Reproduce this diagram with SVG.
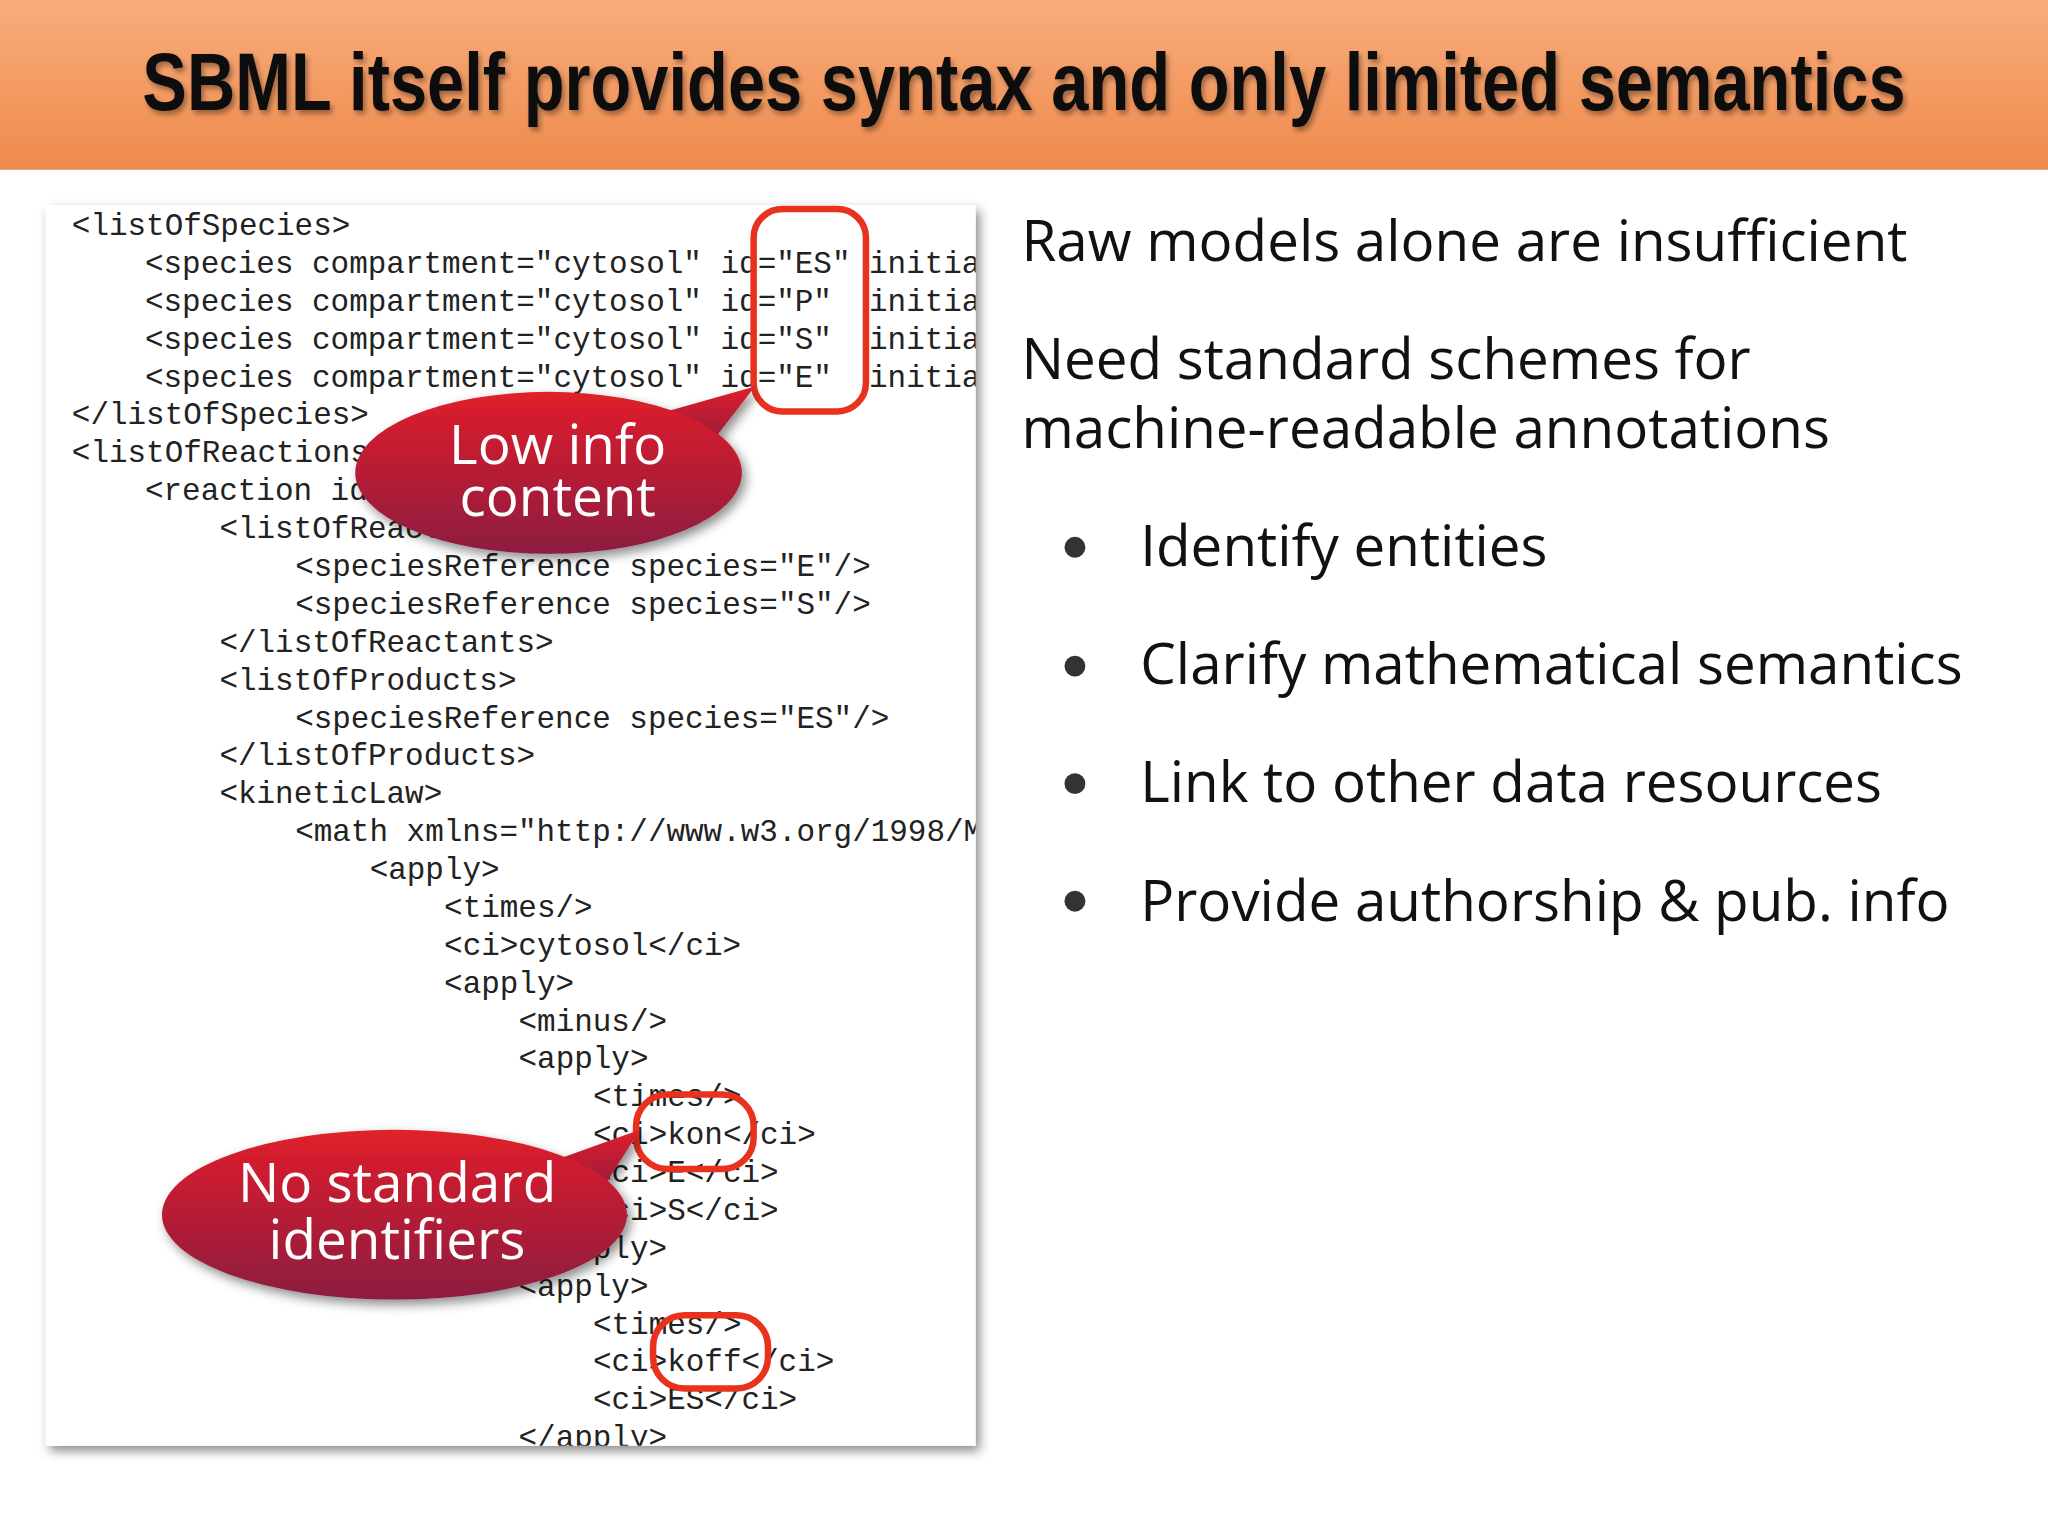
<svg xmlns="http://www.w3.org/2000/svg" width="2048" height="1536" viewBox="0 0 2048 1536">
<defs>
<linearGradient id="hdr" x1="0" y1="0" x2="0" y2="1"><stop offset="0" stop-color="#f8ad7c"/><stop offset="1" stop-color="#ef8a4c"/></linearGradient>
<linearGradient id="bub" x1="0" y1="0" x2="0" y2="1"><stop offset="0" stop-color="#e0202a"/><stop offset="1" stop-color="#8c1a40"/></linearGradient>
<clipPath id="pc"><rect x="35" y="157" width="712" height="950"/></clipPath>
<filter id="sh" x="-10%" y="-10%" width="130%" height="130%"><feDropShadow dx="3" dy="4" stdDeviation="4" flood-opacity="0.45"/></filter>
<filter id="tsh"><feDropShadow dx="2" dy="3" stdDeviation="2" flood-opacity="0.35"/></filter>
<style>
.c{font-family:"Liberation Mono",monospace;font-size:23.7px;fill:#222;white-space:pre}
.r{font-family:"Open Sans","Noto Sans",sans-serif;font-size:43.3px;fill:#111}
.b{font-family:"Open Sans","Noto Sans",sans-serif;font-size:42px;fill:#fff;text-anchor:middle}
.box{fill:none;stroke:#e8321e;stroke-width:5}
</style>
</defs>
<g transform="scale(1.30612)">
<rect x="0" y="0" width="1568" height="130" fill="url(#hdr)"/>
<text x="784" y="84" text-anchor="middle" font-family="'Liberation Sans',sans-serif" font-weight="bold" font-size="62" textLength="1350" lengthAdjust="spacingAndGlyphs" fill="#111" filter="url(#tsh)">SBML itself provides syntax and only limited semantics</text>
<g id="panel">
<rect x="35" y="157" width="712" height="950" fill="#fff" filter="url(#sh)"/>
<g clip-path="url(#pc)" xml:space="preserve">
<text class="c" x="55" y="180">&lt;listOfSpecies&gt;</text>
<text class="c" x="111" y="209">&lt;species compartment="cytosol" id="ES" initialAmount</text>
<text class="c" x="111" y="238">&lt;species compartment="cytosol" id="P"  initialAmount</text>
<text class="c" x="111" y="267">&lt;species compartment="cytosol" id="S"  initialAmount</text>
<text class="c" x="111" y="296">&lt;species compartment="cytosol" id="E"  initialAmount</text>
<text class="c" x="55" y="325">&lt;/listOfSpecies&gt;</text>
<text class="c" x="55" y="354">&lt;listOfReactions&gt;</text>
<text class="c" x="111" y="383">&lt;reaction id="veq"&gt;</text>
<text class="c" x="168" y="412">&lt;listOfReactants&gt;</text>
<text class="c" x="226" y="441">&lt;speciesReference species="E"/&gt;</text>
<text class="c" x="226" y="470">&lt;speciesReference species="S"/&gt;</text>
<text class="c" x="168" y="499">&lt;/listOfReactants&gt;</text>
<text class="c" x="168" y="528">&lt;listOfProducts&gt;</text>
<text class="c" x="226" y="557">&lt;speciesReference species="ES"/&gt;</text>
<text class="c" x="168" y="586">&lt;/listOfProducts&gt;</text>
<text class="c" x="168" y="615">&lt;kineticLaw&gt;</text>
<text class="c" x="226" y="644">&lt;math xmlns="http://www.w3.org/1998/Math/MathML"&gt;</text>
<text class="c" x="283" y="673">&lt;apply&gt;</text>
<text class="c" x="340" y="702">&lt;times/&gt;</text>
<text class="c" x="340" y="731">&lt;ci&gt;cytosol&lt;/ci&gt;</text>
<text class="c" x="340" y="760">&lt;apply&gt;</text>
<text class="c" x="397" y="789">&lt;minus/&gt;</text>
<text class="c" x="397" y="818">&lt;apply&gt;</text>
<text class="c" x="454" y="847">&lt;times/&gt;</text>
<text class="c" x="454" y="876">&lt;ci&gt;kon&lt;/ci&gt;</text>
<text class="c" x="454" y="905">&lt;ci&gt;E&lt;/ci&gt;</text>
<text class="c" x="454" y="934">&lt;ci&gt;S&lt;/ci&gt;</text>
<text class="c" x="397" y="963">&lt;/apply&gt;</text>
<text class="c" x="397" y="992">&lt;apply&gt;</text>
<text class="c" x="454" y="1021">&lt;times/&gt;</text>
<text class="c" x="454" y="1050">&lt;ci&gt;koff&lt;/ci&gt;</text>
<text class="c" x="454" y="1079">&lt;ci&gt;ES&lt;/ci&gt;</text>
<text class="c" x="397" y="1108">&lt;/apply&gt;</text>
</g>
<rect class="box" x="577" y="160" width="86" height="155" rx="22"/>
<rect class="box" x="487" y="838" width="90" height="57" rx="24"/>
<rect class="box" x="500" y="1007" width="88" height="56" rx="24"/>
</g>
<g id="bubble-low" filter="url(#sh)">
<path d="M 500 318 L 578 296 L 540 345 Z" fill="url(#bub)"/>
<ellipse cx="420" cy="362" rx="148" ry="62" fill="url(#bub)"/>
<text class="b" x="427" y="355">Low info</text>
<text class="b" x="427" y="395">content</text>
</g>
<g id="bubble-std" filter="url(#sh)">
<path d="M 420 890 L 490 865 L 455 920 Z" fill="url(#bub)"/>
<ellipse cx="302" cy="930" rx="178" ry="65" fill="url(#bub)"/>
<text class="b" x="304" y="920">No standard</text>
<text class="b" x="304" y="964">identifiers</text>
</g>
<g id="right">
<text class="r" x="782" y="200">Raw models alone are insufficient</text>
<text class="r" x="782" y="290">Need standard schemes for</text>
<text class="r" x="782" y="343">machine-readable annotations</text>
<g fill="#333"><circle cx="823" cy="419" r="8"/><circle cx="823" cy="510" r="8"/><circle cx="823" cy="600" r="8"/><circle cx="823" cy="690" r="8"/></g>
<text class="r" x="873" y="433">Identify entities</text>
<text class="r" x="873" y="524">Clarify mathematical semantics</text>
<text class="r" x="873" y="614">Link to other data resources</text>
<text class="r" x="873" y="705">Provide authorship &amp; pub. info</text>
</g>
</g>
</svg>
